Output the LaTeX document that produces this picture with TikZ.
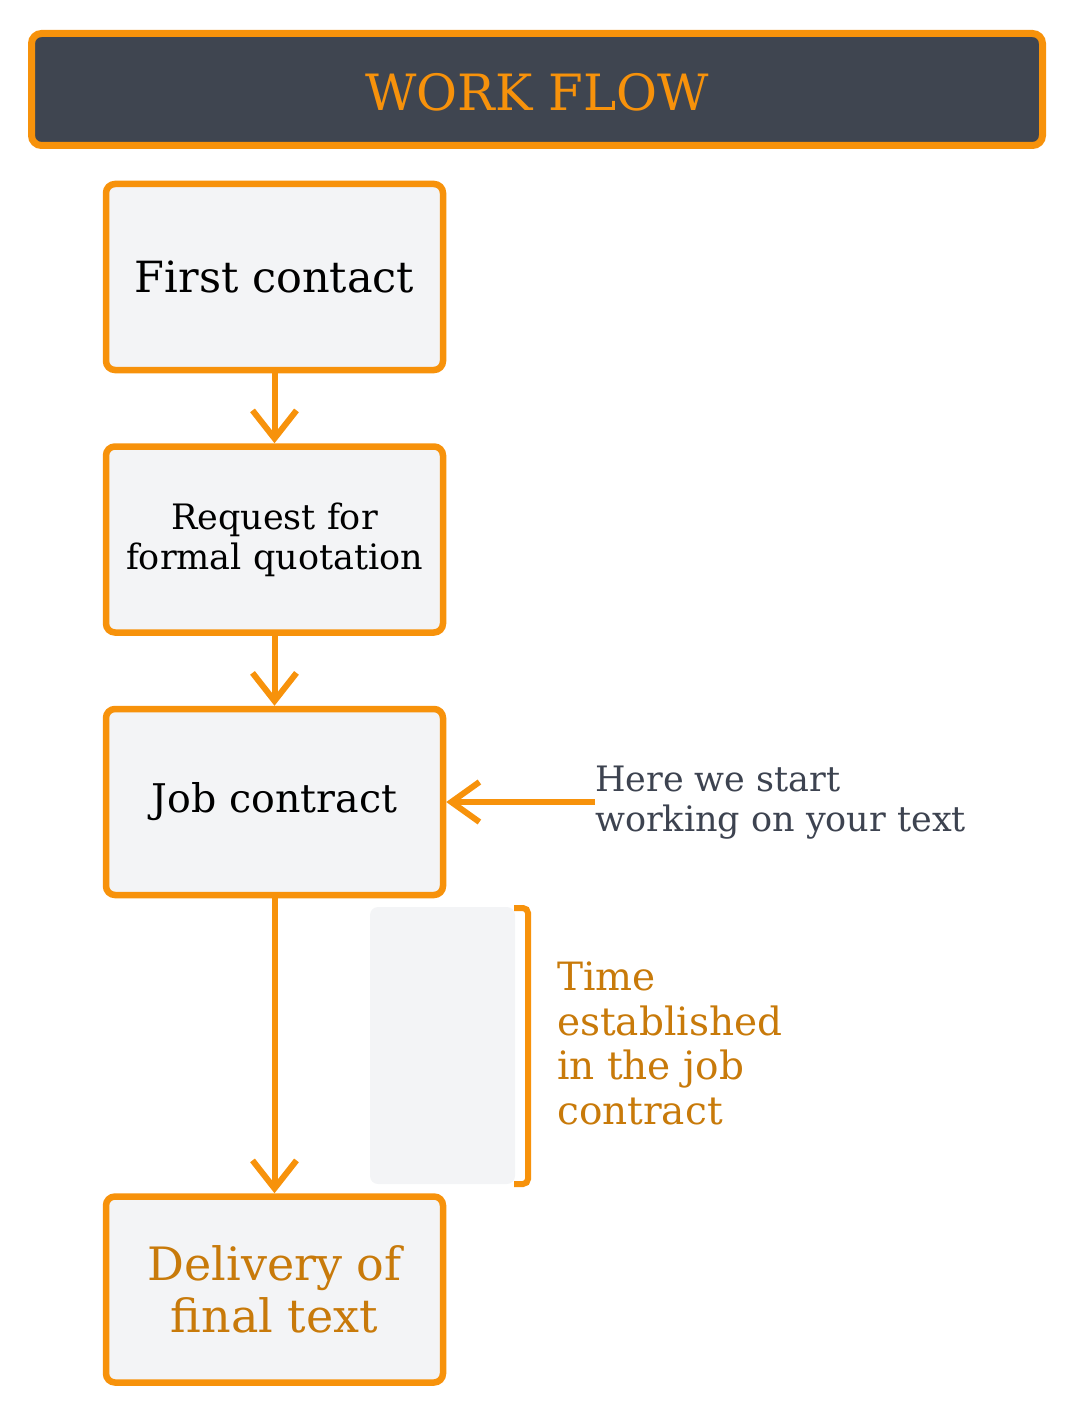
\documentclass[tikz,border=0pt]{standalone}
\usepackage{fontspec}
\setmainfont{DejaVu Serif}
\usetikzlibrary{arrows.meta}
\definecolor{orng}{HTML}{F7920B}
\definecolor{darkorng}{HTML}{C87A0A}
\definecolor{slate}{HTML}{3F4550}
\definecolor{boxfill}{HTML}{F3F4F6}
\definecolor{graytext}{HTML}{3D4350}
\tikzset{
  stepbox/.style={draw=orng, line width=6.5pt, fill=boxfill, rounded corners=9pt,
    minimum width=337pt, minimum height=186pt, align=center, inner sep=0pt},
  flow/.style={draw=orng, line width=6pt, -{Straight Barb[length=28pt,width=44pt]}},
}
\begin{document}
\begin{tikzpicture}[x=1pt,y=-1pt]
\useasboundingbox (0,0) rectangle (1074,1423);
% title
\node[draw=orng, line width=7pt, fill=slate, rounded corners=10pt,
  minimum width=1011pt, minimum height=112pt, inner sep=0pt] (title) at (537,89.5) {};
\node[text=orng, inner sep=0pt, font=\fontsize{50}{56}\selectfont] (titletext) at (537,92) {WORK FLOW};
% steps
\node[stepbox, font=\fontsize{43}{48}\selectfont] (first) at (274.5,277) {First contact};
\node[stepbox, font=\fontsize{35}{40}\selectfont] (request) at (274.5,539.5) {Request for\\formal quotation};
\node[stepbox, font=\fontsize{39.5}{44}\selectfont] (job) at (274.5,802) {Job contract};
\node[stepbox, text=darkorng, font=\fontsize{46}{52}\selectfont] (delivery) at (274.5,1289.5) {Delivery of\\final text};
% connectors
\draw[flow] (first) -- (request);
\draw[flow] (request) -- (job);
\draw[flow] (job) -- (delivery);
% side note
\node[anchor=west, text=graytext, align=left, inner sep=0pt,
  font=\fontsize{35}{40}\selectfont] (note) at (595,803) {Here we start\\working on your text};
\draw[flow, -{Straight Barb[length=28pt,width=40pt]}] (note.west |- job.east) -- (job.east);
% time span
\node[fill=boxfill, rounded corners=8pt, minimum width=145pt, minimum height=277pt, inner sep=0pt] (span) at (442.5,1045.5) {};
\coordinate (btop) at (514,908);
\coordinate (bbot) at (514,1184);
\draw[orng, line width=6pt, rounded corners=5pt] (btop) -- (528,908) -- (528,1184) -- (bbot);
\node[anchor=north west, text=darkorng, align=left, inner sep=0pt,
  font=\fontsize{39}{44.7}\selectfont] (time) at (557,961.5) {Time\\established\\in the job\\contract};
\end{tikzpicture}
\end{document}
